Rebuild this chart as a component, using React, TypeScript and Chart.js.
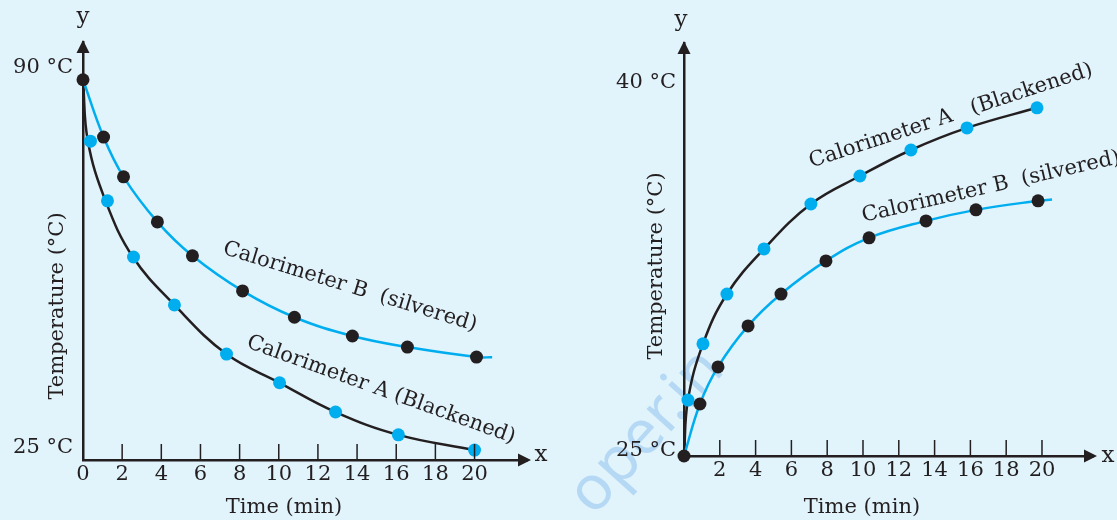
import React, { useEffect, useRef } from "react";
import { Chart, registerables } from "chart.js";
Chart.register(...registerables);

const BG = "#e1f3fb";
const CYAN = "#00aeef";
const INK = "#231f20";
const FONT = "'DejaVu Serif', 'Liberation Serif', serif";

// ---------- LEFT PANEL (cooling) ----------
const L_XTICKS = [0, 2, 4, 6, 8, 10, 12, 14, 16, 18, 20];
const L_YTICKS = [25, 90];
// Calorimeter B (silvered): black dots on cyan curve
const L_B_DOT_X = [0, 1.05, 2.07, 3.8, 5.59, 8.15, 10.8, 13.76, 16.57, 20.1];
const L_B_DOT_Y = [90, 80.2, 73.4, 65.7, 59.9, 53.9, 49.4, 46.2, 44.3, 42.6];
const L_B_CURVE_X = [0, 1.05, 2.07, 3.8, 5.59, 8.15, 10.8, 13.76, 16.57, 20.1, 20.9];
const L_B_CURVE_Y = [90, 80.2, 73.4, 65.7, 59.9, 53.9, 49.4, 46.2, 44.3, 42.6, 42.55];
// Calorimeter A (blackened): cyan dots on black curve
const L_A_DOT_X = [0.38, 1.25, 2.58, 4.67, 7.33, 10.04, 12.9, 16.11, 20.0];
const L_A_DOT_Y = [79.5, 69.3, 59.7, 51.5, 43.1, 38.2, 33.2, 29.3, 26.7];
const L_A_CURVE_X = [0, 0.25, 1.15, 2.55, 4.67, 7.33, 10.04, 12.9, 16.11, 20.0];
const L_A_CURVE_Y = [90, 79.5, 69.3, 59.7, 51.5, 43.1, 38.2, 33.2, 29.3, 26.7];
const L_LABELS = ["Calorimeter B  (silvered)", "Calorimeter A (Blackened)"];

// ---------- RIGHT PANEL (heating) ----------
const R_XTICKS = [2, 4, 6, 8, 10, 12, 14, 16, 18, 20];
const R_YTICKS = [25, 40];
// Calorimeter A (blackened): cyan dots on black curve
const R_A_DOT_X = [0.22, 1.06, 2.4, 4.47, 7.09, 9.83, 12.68, 15.81, 19.72];
const R_A_DOT_Y = [27.28, 29.57, 31.6, 33.44, 35.27, 36.41, 37.47, 38.37, 39.19];
const R_A_CURVE_X = [0, 0.22, 1.06, 2.4, 4.47, 7.09, 9.83, 12.68, 15.81, 19.72, 20.0];
const R_A_CURVE_Y = [25, 27.28, 29.57, 31.6, 33.44, 35.27, 36.41, 37.47, 38.37, 39.19, 39.23];
// Calorimeter B (silvered): black dots on cyan curve
const R_B_DOT_X = [0, 0.89, 1.9, 3.58, 5.42, 7.93, 10.34, 13.52, 16.31, 19.78];
const R_B_DOT_Y = [25, 27.12, 28.63, 30.3, 31.6, 32.95, 33.89, 34.58, 35.03, 35.4];
const R_B_CURVE_X = [0, 0.89, 1.9, 3.58, 5.42, 7.93, 10.34, 13.52, 16.31, 19.78, 20.56];
const R_B_CURVE_Y = [25, 27.12, 28.63, 30.3, 31.6, 32.95, 33.89, 34.58, 35.03, 35.4, 35.45];
const R_LABELS = ["Calorimeter A   (Blackened)", "Calorimeter B  (silvered)"];

const X_TITLE = "Time (min)";
const Y_TITLE = "Temperature (°C)";

const zip = (xs: number[], ys: number[]) => xs.map((x, i) => ({ x, y: ys[i] }));

type Panel = {
  width: number;
  xMax: number;
  yMin: number;
  yMax: number;
  xTicks: number[];
  yTicks: number[];
  yAxisWidth: number;
  xAxisHeight: number;
  padTop: number;
  padRight: number;
  yLabelOffset: number;
  yLabelPad: number;
  curves: { x: number[]; y: number[]; color: string }[];
  dots: { x: number[]; y: number[]; color: string }[];
  labels: { text: string; cx: number; cy: number; angle: number }[];
  xTitle: { cx: number; cy: number };
  yTitle: { cx: number; cy: number };
  xLetter: { cx: number; cy: number };
  yLetter: { cx: number; cy: number };
};

function buildChart(canvas: HTMLCanvasElement, p: Panel) {
  const overlay = {
    id: "overlay",
    afterDraw(chart: any) {
      const ctx = chart.ctx as CanvasRenderingContext2D;
      const a = chart.chartArea;
      const xs = chart.scales.x;
      ctx.save();
      ctx.fillStyle = INK;
      ctx.strokeStyle = INK;
      // tick marks (inward, upward)
      ctx.lineWidth = 1.5;
      p.xTicks.forEach((v) => {
        if (v <= 0) return;
        const px = xs.getPixelForValue(v);
        ctx.beginPath();
        ctx.moveTo(px, a.bottom);
        ctx.lineTo(px, a.bottom - 16);
        ctx.stroke();
      });
      // arrow heads
      ctx.beginPath();
      ctx.moveTo(a.right + 4, a.bottom);
      ctx.lineTo(a.right - 9, a.bottom - 6.5);
      ctx.lineTo(a.right - 9, a.bottom + 6.5);
      ctx.closePath();
      ctx.fill();
      ctx.beginPath();
      ctx.moveTo(a.left, a.top - 2);
      ctx.lineTo(a.left - 6.5, a.top + 11);
      ctx.lineTo(a.left + 6.5, a.top + 11);
      ctx.closePath();
      ctx.fill();
      // titles
      ctx.font = `21px ${FONT}`;
      ctx.textAlign = "center";
      ctx.textBaseline = "middle";
      ctx.fillText(X_TITLE, p.xTitle.cx, p.xTitle.cy);
      ctx.save();
      ctx.translate(p.yTitle.cx, p.yTitle.cy);
      ctx.rotate(-Math.PI / 2);
      ctx.fillText(Y_TITLE, 0, 0);
      ctx.restore();
      ctx.font = `23px ${FONT}`;
      ctx.fillText("x", p.xLetter.cx, p.xLetter.cy);
      ctx.fillText("y", p.yLetter.cx, p.yLetter.cy);
      // curve labels
      ctx.font = `21px ${FONT}`;
      p.labels.forEach((l) => {
        ctx.save();
        ctx.translate(l.cx, l.cy);
        ctx.rotate((l.angle * Math.PI) / 180);
        ctx.fillText(l.text, 0, 0);
        ctx.restore();
      });
      ctx.restore();
    },
  };

  const datasets: any[] = [];
  p.curves.forEach((c) =>
    datasets.push({
      data: zip(c.x, c.y),
      showLine: true,
      borderColor: c.color,
      borderWidth: 2.5,
      pointRadius: 0,
      tension: 0.4,
      clip: false,
      order: 2,
    })
  );
  p.dots.forEach((d) =>
    datasets.push({
      data: zip(d.x, d.y),
      showLine: false,
      pointRadius: 6.5,
      pointBackgroundColor: d.color,
      pointBorderColor: d.color,
      pointBorderWidth: 0,
      clip: false,
      order: 1,
    })
  );

  return new Chart(canvas, {
    type: "scatter",
    data: { datasets },
    options: {
      responsive: false,
      animation: false,
      events: [],
      layout: { padding: { top: p.padTop, right: p.padRight, left: 0, bottom: 0 } },
      plugins: { legend: { display: false }, tooltip: { enabled: false } },
      scales: {
        x: {
          type: "linear",
          min: 0,
          max: p.xMax,
          grid: { display: false, drawTicks: false },
          border: { display: true, color: INK, width: 2.5 },
          afterBuildTicks: (s: any) => {
            s.ticks = p.xTicks.map((v) => ({ value: v }));
          },
          afterFit: (s: any) => {
            s.height = p.xAxisHeight;
          },
          ticks: {
            autoSkip: false,
            maxRotation: 0,
            padding: 2,
            color: INK,
            font: { family: FONT, size: 21 },
          },
        },
        y: {
          type: "linear",
          min: p.yMin,
          max: p.yMax,
          grid: { display: false, drawTicks: false },
          border: { display: true, color: INK, width: 2.5 },
          afterBuildTicks: (s: any) => {
            s.ticks = p.yTicks.map((v) => ({ value: v }));
          },
          afterFit: (s: any) => {
            s.width = p.yAxisWidth;
          },
          ticks: {
            autoSkip: false,
            padding: p.yLabelPad,
            labelOffset: p.yLabelOffset,
            color: INK,
            font: { family: FONT, size: 21 },
            callback: (v: any) => `${v} °C`,
          },
        },
      },
    } as any,
    plugins: [overlay],
  });
}

const LEFT_W = 558;
const RIGHT_W = 559;
const H = 520;

const leftPanel: Panel = {
  width: LEFT_W,
  xMax: 22.68,
  yMin: 25,
  yMax: 96.45,
  xTicks: L_XTICKS,
  yTicks: L_YTICKS,
  yAxisWidth: 83,
  xAxisHeight: 60,
  padTop: 42,
  padRight: LEFT_W - 527,
  yLabelOffset: -12,
  yLabelPad: 10,
  curves: [
    { x: L_B_CURVE_X, y: L_B_CURVE_Y, color: CYAN },
    { x: L_A_CURVE_X, y: L_A_CURVE_Y, color: INK },
  ],
  dots: [
    { x: L_B_DOT_X, y: L_B_DOT_Y, color: INK },
    { x: L_A_DOT_X, y: L_A_DOT_Y, color: CYAN },
  ],
  labels: [
    { text: L_LABELS[0], cx: 350, cy: 287, angle: 17 },
    { text: L_LABELS[1], cx: 381, cy: 390, angle: 19.8 },
  ],
  xTitle: { cx: 284, cy: 508 },
  yTitle: { cx: 58, cy: 306 },
  xLetter: { cx: 541, cy: 455 },
  yLetter: { cx: 83, cy: 17 },
};

const RO = LEFT_W; // right canvas page offset
const rightPanel: Panel = {
  width: RIGHT_W,
  xMax: 22.85,
  yMin: 25,
  yMax: 41.83,
  xTicks: R_XTICKS,
  yTicks: R_YTICKS,
  yAxisWidth: 684 - RO,
  xAxisHeight: H - 456,
  padTop: 43,
  padRight: RIGHT_W - (1093 - RO),
  yLabelOffset: -5,
  yLabelPad: 8,
  curves: [
    { x: R_B_CURVE_X, y: R_B_CURVE_Y, color: CYAN },
    { x: R_A_CURVE_X, y: R_A_CURVE_Y, color: INK },
  ],
  dots: [
    { x: R_A_DOT_X, y: R_A_DOT_Y, color: CYAN },
    { x: R_B_DOT_X, y: R_B_DOT_Y, color: INK },
  ],
  labels: [
    { text: R_LABELS[0], cx: 951 - RO, cy: 116, angle: -18.2 },
    { text: R_LABELS[1], cx: 991 - RO, cy: 187, angle: -12.9 },
  ],
  xTitle: { cx: 862 - RO, cy: 508 },
  yTitle: { cx: 657 - RO, cy: 266 },
  xLetter: { cx: 1108 - RO, cy: 456 },
  yLetter: { cx: 681 - RO, cy: 20 },
};

function PanelCanvas({ panel, left }: { panel: Panel; left: number }) {
  const ref = useRef<HTMLCanvasElement | null>(null);
  useEffect(() => {
    if (!ref.current) return;
    const chart = buildChart(ref.current, panel);
    return () => chart.destroy();
  }, [panel]);
  return (
    <canvas
      ref={ref}
      width={panel.width}
      height={H}
      style={{ position: "absolute", left, top: 0, width: panel.width, height: H }}
    />
  );
}

export default function App() {
  return (
    <div
      style={{
        position: "fixed",
        left: 0,
        top: 0,
        width: 1117,
        height: H,
        background: BG,
        overflow: "hidden",
      }}
    >
      <div
        style={{
          position: "absolute",
          left: 642,
          top: 428,
          transform: "translate(-50%, -50%) rotate(-48deg)",
          fontFamily: "'Noto Sans', sans-serif",
          fontSize: 62,
          color: "rgba(110, 175, 235, 0.38)",
          whiteSpace: "nowrap",
          pointerEvents: "none",
        }}
      >
        oper.in
      </div>
      <PanelCanvas panel={leftPanel} left={0} />
      <PanelCanvas panel={rightPanel} left={LEFT_W} />
    </div>
  );
}
